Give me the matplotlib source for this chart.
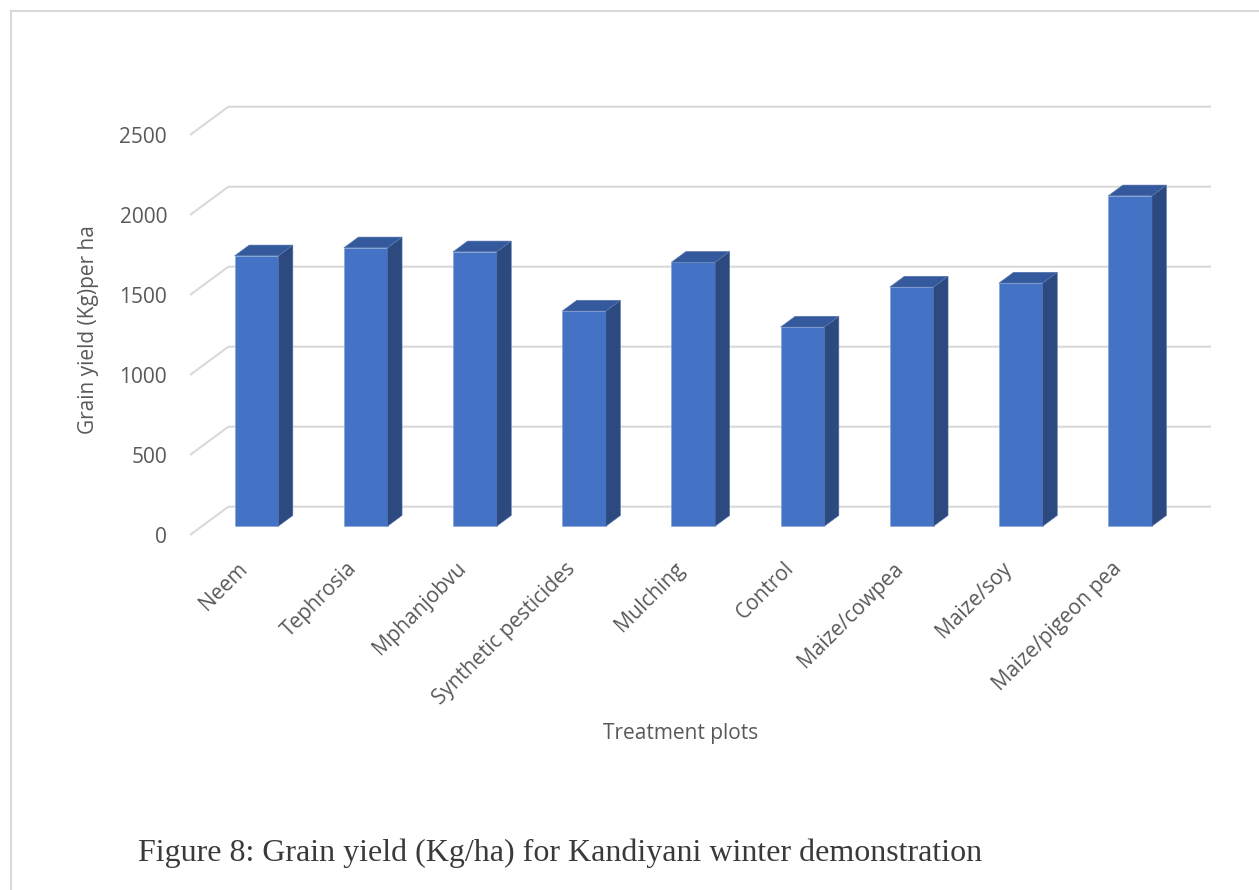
import matplotlib
matplotlib.use("Agg")
import matplotlib.pyplot as plt
from matplotlib.patches import Polygon
from matplotlib.lines import Line2D

# ── Data ──────────────────────────────────────────────────────────────────────
treatments = ["Neem", "Tephrosia", "Mphanjobvu", "Synthetic pesticides", "Mulching",
              "Control", "Maize/cowpea", "Maize/soy", "Maize/pigeon pea"]
yield_kg_ha = [1690, 1740, 1715, 1345, 1650, 1245, 1495, 1520, 2065]
y_ticks = [0, 500, 1000, 1500, 2000, 2500]

# ── Layout / style (oblique "3-D column" look) ───────────────────────────────
W, H, DPI = 1259, 890, 100
PX_CAT = 109.2          # pixels per category
PX_VAL = 0.16           # pixels per kg/ha
X0_PX, Y0_PX = 190, 535  # pixel position of front-left floor corner
DEPTH_X = 38.3 / PX_CAT  # floor depth in category units
DEPTH_Y = 28.3 / PX_VAL  # floor depth in value units
F0, F1 = 0.31, 0.69      # bar front / back as fraction of floor depth
BAR_W = 0.4

FRONT, SIDE, TOP = "#4472C4", "#2C4A80", "#34599C"
GRID = "#D9D9D9"
TXT = "#595959"

fig = plt.figure(figsize=(W / DPI, H / DPI), dpi=DPI)
ax = fig.add_axes([0, 0, 1, 1])
ax.set_xlim(-X0_PX / PX_CAT - 0.5, (W - X0_PX) / PX_CAT - 0.5)
ax.set_ylim(-(H - Y0_PX) / PX_VAL, Y0_PX / PX_VAL)
ax.patch.set_alpha(0)

n = len(treatments)
xl, xr = -0.5, n - 0.5

# back wall gridlines with the slanted floor/side segment
for v in y_ticks:
    ax.plot([xl, xl + DEPTH_X, xr + DEPTH_X], [v, v + DEPTH_Y, v + DEPTH_Y],
            color=GRID, lw=1.5, zorder=1, solid_capstyle="butt")

# bars: front face through ax.bar, side and top faces as polygons
d_x, d_y = (F1 - F0) * DEPTH_X, (F1 - F0) * DEPTH_Y
xs = [i + F0 * DEPTH_X for i in range(n)]
base = F0 * DEPTH_Y
ax.bar(xs, yield_kg_ha, width=BAR_W, bottom=base, color=FRONT,
       edgecolor="#7F9ED6", lw=0.4, zorder=3)
for x, v in zip(xs, yield_kg_ha):
    x_l, x_r, top = x - BAR_W / 2, x + BAR_W / 2, base + v
    side = [(x_r, base), (x_r + d_x, base + d_y), (x_r + d_x, top + d_y), (x_r, top)]
    cap = [(x_l, top), (x_r, top), (x_r + d_x, top + d_y), (x_l + d_x, top + d_y)]
    ax.add_patch(Polygon(side, closed=True, fc=SIDE, ec="#5A78B0", lw=0.4, zorder=3))
    ax.add_patch(Polygon(cap, closed=True, fc=TOP, ec="#5A78B0", lw=0.4, zorder=3))

# axes: ticks on the front plane
for s in ["top", "right"]:
    ax.spines[s].set_visible(False)
ax.spines["left"].set_position(("data", xl))
ax.spines["bottom"].set_position(("data", 0))
ax.spines["left"].set_visible(False)
ax.spines["bottom"].set_visible(False)

ax.set_yticks(y_ticks)
ax.set_yticklabels([str(t) for t in y_ticks], family="Open Sans", fontsize=15, color=TXT)
ax.tick_params(axis="y", length=0, pad=16.5)
for lbl in ax.get_yticklabels():
    lbl.set_va("center_baseline")

ax.set_xticks(range(n))
ax.set_xticklabels(treatments, family="Open Sans", fontsize=15, color=TXT)
ax.tick_params(axis="x", length=0, pad=22)
for lbl in ax.get_xticklabels():
    lbl.set_rotation(45)
    lbl.set_ha("right")
    lbl.set_va("center")
    lbl.set_rotation_mode("anchor")

ax.set_ylabel("Grain yield (Kg)per ha", family="Open Sans", fontsize=15, color=TXT)
ax.yaxis.set_label_coords(99 / W, 1 - 330 / H)
ax.set_xlabel("Treatment plots", family="Open Sans", fontsize=15, color=TXT)
ax.xaxis.set_label_coords(681 / W, 1 - 723 / H)

# chart area border (left and top edges visible)
fig.add_artist(Line2D([11 / W, 11 / W], [0, 1 - 11 / H], color=GRID, lw=1.5))
fig.add_artist(Line2D([11 / W, 1], [1 - 11 / H, 1 - 11 / H], color=GRID, lw=1.5))

fig.text(138 / W, 1 - 853 / H,
         "Figure 8: Grain yield (Kg/ha) for Kandiyani winter demonstration",
         family="Liberation Serif", fontsize=23, color="#3A3A3A", ha="left", va="center")

fig.savefig("out.png", dpi=DPI)
